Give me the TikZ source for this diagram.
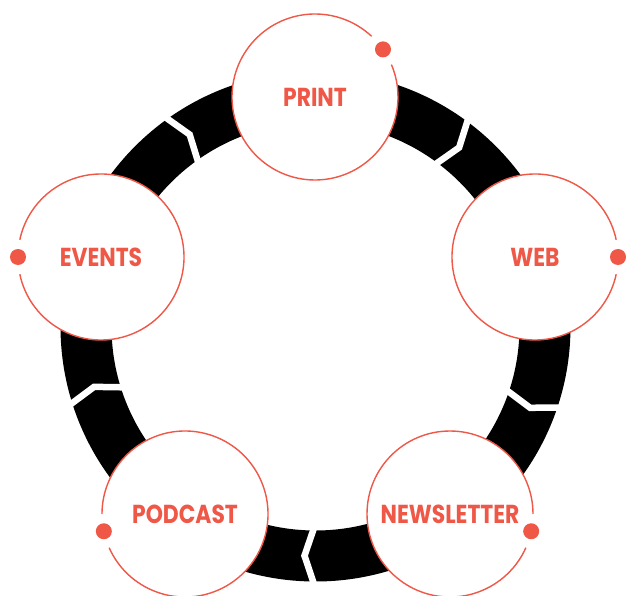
\documentclass[tikz,border=0pt]{standalone}
\usepackage{fontspec}
\newfontfamily\labelfont{Poppins}[FakeStretch=0.84]
\definecolor{coral}{RGB}{239,87,71}

\begin{document}
\begin{tikzpicture}[x=1pt, y=1pt,
    hub/.style={circle, fill=white, minimum size=166pt, inner sep=0pt, outer sep=0pt,
      text=coral, font=\labelfont\bfseries\fontsize{26}{26}\selectfont},
    rim/.style={draw=coral, line width=1.4pt},
    cut/.style={draw=white, line width=6.5pt, line join=miter}]
    \useasboundingbox (0,0) rectangle (626,595);

    % black ring with the white arrow cuts
    \coordinate (ring) at (315.5,268.5);
    \fill[black, even odd rule] (ring) circle [radius=255] (ring) circle [radius=204];
    \foreach \a in {-90,-18,54,126,198}
        \draw[cut, shift={(ring)}] (\a:262) -- (\a-2.75:229.5) -- (\a:197);

    % the five stations
    \node[hub] (print) at (315,498) {PRINT};
    \node[hub] (web) at (535,338) {WEB};
    \node[hub] (newsletter) at (450,81) {NEWSLETTER};
    \node[hub] (podcast) at (185,81) {PODCAST};
    \node[hub] (events) at (101,338) {EVENTS};

    % open rims and their dots
    \foreach \n/\d in {print/35, web/0, newsletter/-12, podcast/192, events/180} {
        \draw[rim, shift={(\n.center)}] (\d+12:83) arc [start angle=\d+12, delta angle=336, radius=83];
        \fill[coral, shift={(\n.center)}] (\d:83) circle [radius=8];
    }
\end{tikzpicture}
\end{document}
